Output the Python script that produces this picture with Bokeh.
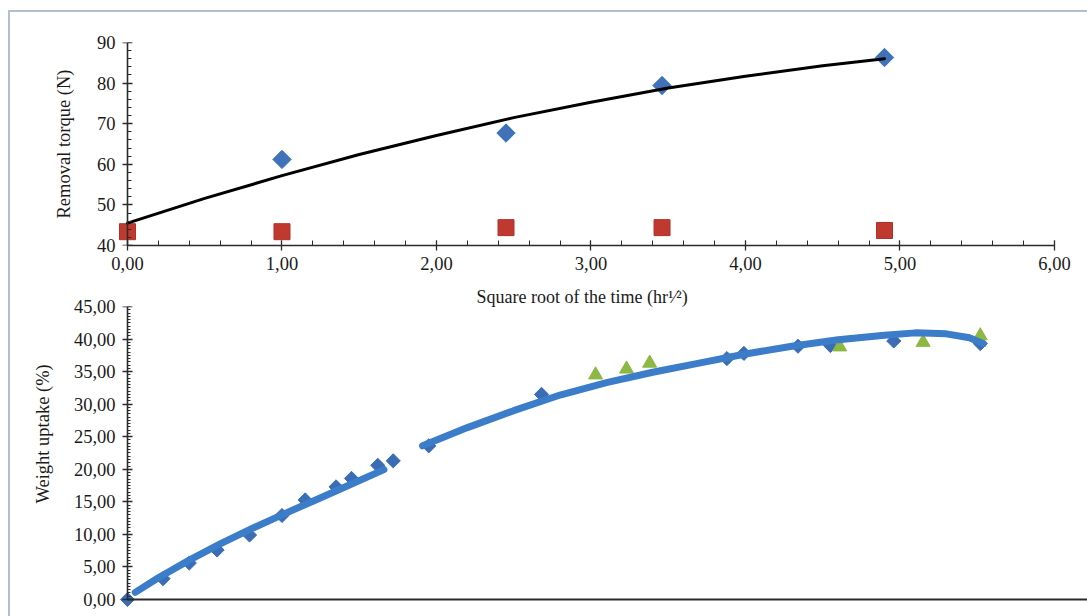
import numpy as np
from bokeh.plotting import figure
from bokeh.layouts import column
from bokeh.models import FixedTicker, CustomJSTickFormatter, Range1d, Title, LinearAxis
from bokeh.embed import file_html
from bokeh.resources import INLINE

# ---------------- top panel data (removal torque) ----------------
torque_x = [0.0, 1.0, 2.45, 3.46, 4.90]
torque_red = [43.4, 43.4, 44.4, 44.4, 43.7]
torque_blue_x = [1.0, 2.45, 3.46, 4.90]
torque_blue = [61.2, 67.7, 79.4, 86.3]
trend_top_x = [0.0, 0.5, 1.0, 1.5, 2.0, 2.5, 3.0, 3.5, 4.0, 4.5, 4.9]
trend_top_y = [45.5, 51.6, 57.2, 62.4, 67.1, 71.5, 75.3, 78.8, 81.7, 84.3, 86.0]
top_x_ticks = [0, 1, 2, 3, 4, 5, 6]
top_x_minor = [round(0.2 * i, 1) for i in range(31)]
top_y_ticks = [40, 50, 60, 70, 80, 90]
top_y_minor = list(range(40, 91, 2))

# ---------------- bottom panel data (weight uptake) ----------------
uptake_x = [0.0, 0.23, 0.40, 0.58, 0.79, 1.00, 1.15, 1.35, 1.45, 1.62, 1.72, 1.95,
            2.68, 3.88, 3.99, 4.34, 4.55, 4.96, 5.52]
uptake_y = [0.0, 3.2, 5.6, 7.6, 9.9, 12.9, 15.3, 17.3, 18.6, 20.6, 21.3, 23.6,
            31.5, 37.0, 37.8, 38.9, 39.0, 39.7, 39.3]
green_x = [3.03, 3.23, 3.38, 4.61, 5.15, 5.52]
green_y = [34.5, 35.4, 36.3, 38.8, 39.5, 40.5]
fit1_x = [0.05, 0.2, 0.4, 0.6, 0.8, 1.0, 1.2, 1.4, 1.66]
fit1_y = [1.1, 3.35, 6.05, 8.55, 10.85, 13.0, 15.1, 17.2, 19.95]
fit2_x = [1.91, 2.2, 2.5, 2.8, 3.1, 3.4, 3.7, 4.0, 4.3, 4.6, 4.9, 5.1, 5.3, 5.45, 5.54]
fit2_y = [23.6, 26.4, 29.0, 31.4, 33.3, 34.9, 36.3, 37.7, 38.9, 39.9, 40.6, 40.95, 40.8, 40.2, 39.3]
bottom_y_ticks = list(range(0, 46, 5))
bottom_y_minor = [0.5 * i for i in range(91)]

FONT = "Liberation Serif"
AX = "#2b2b2b"
TXT = "#1a1a1a"
BORDER = "#b3bfcc"
X_START = -0.0777   # small margin left of the value 0 so edge markers are not cut
fmt2 = CustomJSTickFormatter(code="return tick.toFixed(2).replace('.', ',');")


def style_axis(ax, size="18.5px"):
    ax.axis_line_color = AX
    ax.axis_line_width = 1.6
    ax.major_tick_line_color = AX
    ax.minor_tick_line_color = AX
    ax.major_tick_line_width = 1.3
    ax.minor_tick_line_width = 1
    ax.major_label_text_font = FONT
    ax.major_label_text_font_size = size
    ax.major_label_text_color = TXT
    ax.axis_label_text_font = FONT
    ax.axis_label_text_font_size = size
    ax.axis_label_text_font_style = "normal"
    ax.axis_label_text_color = TXT


def label_only(ax):
    """Axis at the frame edge that only carries the tick labels (and title)."""
    ax.axis_line_color = None
    ax.major_tick_line_color = None
    ax.minor_tick_line_color = None
    ax.major_tick_in = 0
    ax.major_tick_out = 0
    ax.minor_tick_in = 0
    ax.minor_tick_out = 0
    ax.major_label_standoff = 0


def add_value_axes(p, majors, minors, lo, hi, minor_in):
    """Axis line and ticks drawn at x = 0 (inside the frame)."""
    a_minor = LinearAxis(fixed_location=0, bounds=(lo, hi),
                         ticker=FixedTicker(ticks=[], minor_ticks=minors))
    style_axis(a_minor)
    a_minor.minor_tick_in = minor_in
    a_minor.minor_tick_out = 0
    a_major = LinearAxis(fixed_location=0, bounds=(lo, hi),
                         ticker=FixedTicker(ticks=[], minor_ticks=majors))
    style_axis(a_major)
    a_major.axis_line_color = None
    a_major.minor_tick_line_width = 1.3
    a_major.minor_tick_in = 5
    a_major.minor_tick_out = 5
    p.add_layout(a_minor, "left")
    p.add_layout(a_major, "left")


# ---------------- top figure ----------------
p1 = figure(width=1077, height=268, x_range=Range1d(X_START, 6.214), y_range=Range1d(40, 90),
            output_backend="svg", toolbar_location=None,
            min_border_left=105, min_border_right=0, min_border_top=30, min_border_bottom=35)
p1.grid.visible = False
p1.outline_line_color = None
p1.background_fill_color = "white"
p1.border_fill_color = "white"

xa = p1.xaxis[0]
style_axis(xa)
xa.bounds = (0, 6)
xa.ticker = FixedTicker(ticks=top_x_ticks, minor_ticks=top_x_minor)
xa.formatter = fmt2
xa.major_tick_in = 5
xa.major_tick_out = 5
xa.minor_tick_in = 5
xa.minor_tick_out = 0
xa.major_label_standoff = 6

ya = p1.yaxis[0]
style_axis(ya)
label_only(ya)
ya.ticker = FixedTicker(ticks=top_y_ticks)
ya.axis_label = "Removal torque (N)"
ya.axis_label_standoff = 20
add_value_axes(p1, top_y_ticks, top_y_minor, 40, 90, 4)

p1.scatter(torque_blue_x, torque_blue, marker="square", angle=np.pi / 4, size=13,
           fill_color="#3f72b8", line_color="#3f72b8")
p1.scatter(torque_x, torque_red, marker="square", size=16,
           fill_color="#c0392f", line_color="#b0302a")
p1.line(trend_top_x, trend_top_y, line_color="black", line_width=3, line_cap="round")

# ---------------- bottom figure ----------------
p2 = figure(width=1077, height=336, x_range=Range1d(X_START, 6.214), y_range=Range1d(-1.2287, 45),
            output_backend="svg", toolbar_location=None,
            min_border_left=105, min_border_right=0, min_border_top=26, min_border_bottom=9)
p2.grid.visible = False
p2.outline_line_color = None
p2.background_fill_color = "white"
p2.border_fill_color = "white"

p2.add_layout(Title(text="Square root of the time (hr\u00b9\u2044\u00b2)", align="left",
                    offset=361, standoff=0, vertical_align="bottom",
                    text_font=FONT, text_font_size="18px", text_font_style="normal",
                    text_color=TXT), "above")

xb = p2.xaxis[0]
style_axis(xb)
xb.fixed_location = 0
xb.bounds = (0, 6.214)
xb.axis_line_width = 2
xb.ticker = FixedTicker(ticks=[])
xb.major_tick_in = 0
xb.major_tick_out = 0
xb.minor_tick_in = 0
xb.minor_tick_out = 0

yb = p2.yaxis[0]
style_axis(yb)
label_only(yb)
yb.ticker = FixedTicker(ticks=bottom_y_ticks)
yb.formatter = fmt2
add_value_axes(p2, bottom_y_ticks, bottom_y_minor, 0, 45, 3)

p2.add_layout(Title(text="Weight uptake (%)", align="left", offset=104, standoff=35,
                    vertical_align="bottom", text_font=FONT, text_font_size="18.5px",
                    text_font_style="normal", text_color=TXT), "left")

p2.scatter(uptake_x, uptake_y, marker="square", angle=np.pi / 4, size=10,
           fill_color="#3a6db5", line_color="#3a6db5")
p2.scatter(green_x, green_y, marker="triangle", size=14,
           fill_color="#8db843", line_color="#8db843")
p2.line(fit1_x, fit1_y, line_color="#3b7dc8", line_width=7, line_cap="round",
        line_join="round")
p2.line(fit2_x, fit2_y, line_color="#3b7dc8", line_width=7, line_cap="round",
        line_join="round")

layout = column(p1, p2, spacing=0, margin=(10, 0, 0, 8),
                styles={"border-left": "2px solid " + BORDER,
                        "border-top": "2px solid " + BORDER})
open("out.html", "w").write(file_html(layout, INLINE))
